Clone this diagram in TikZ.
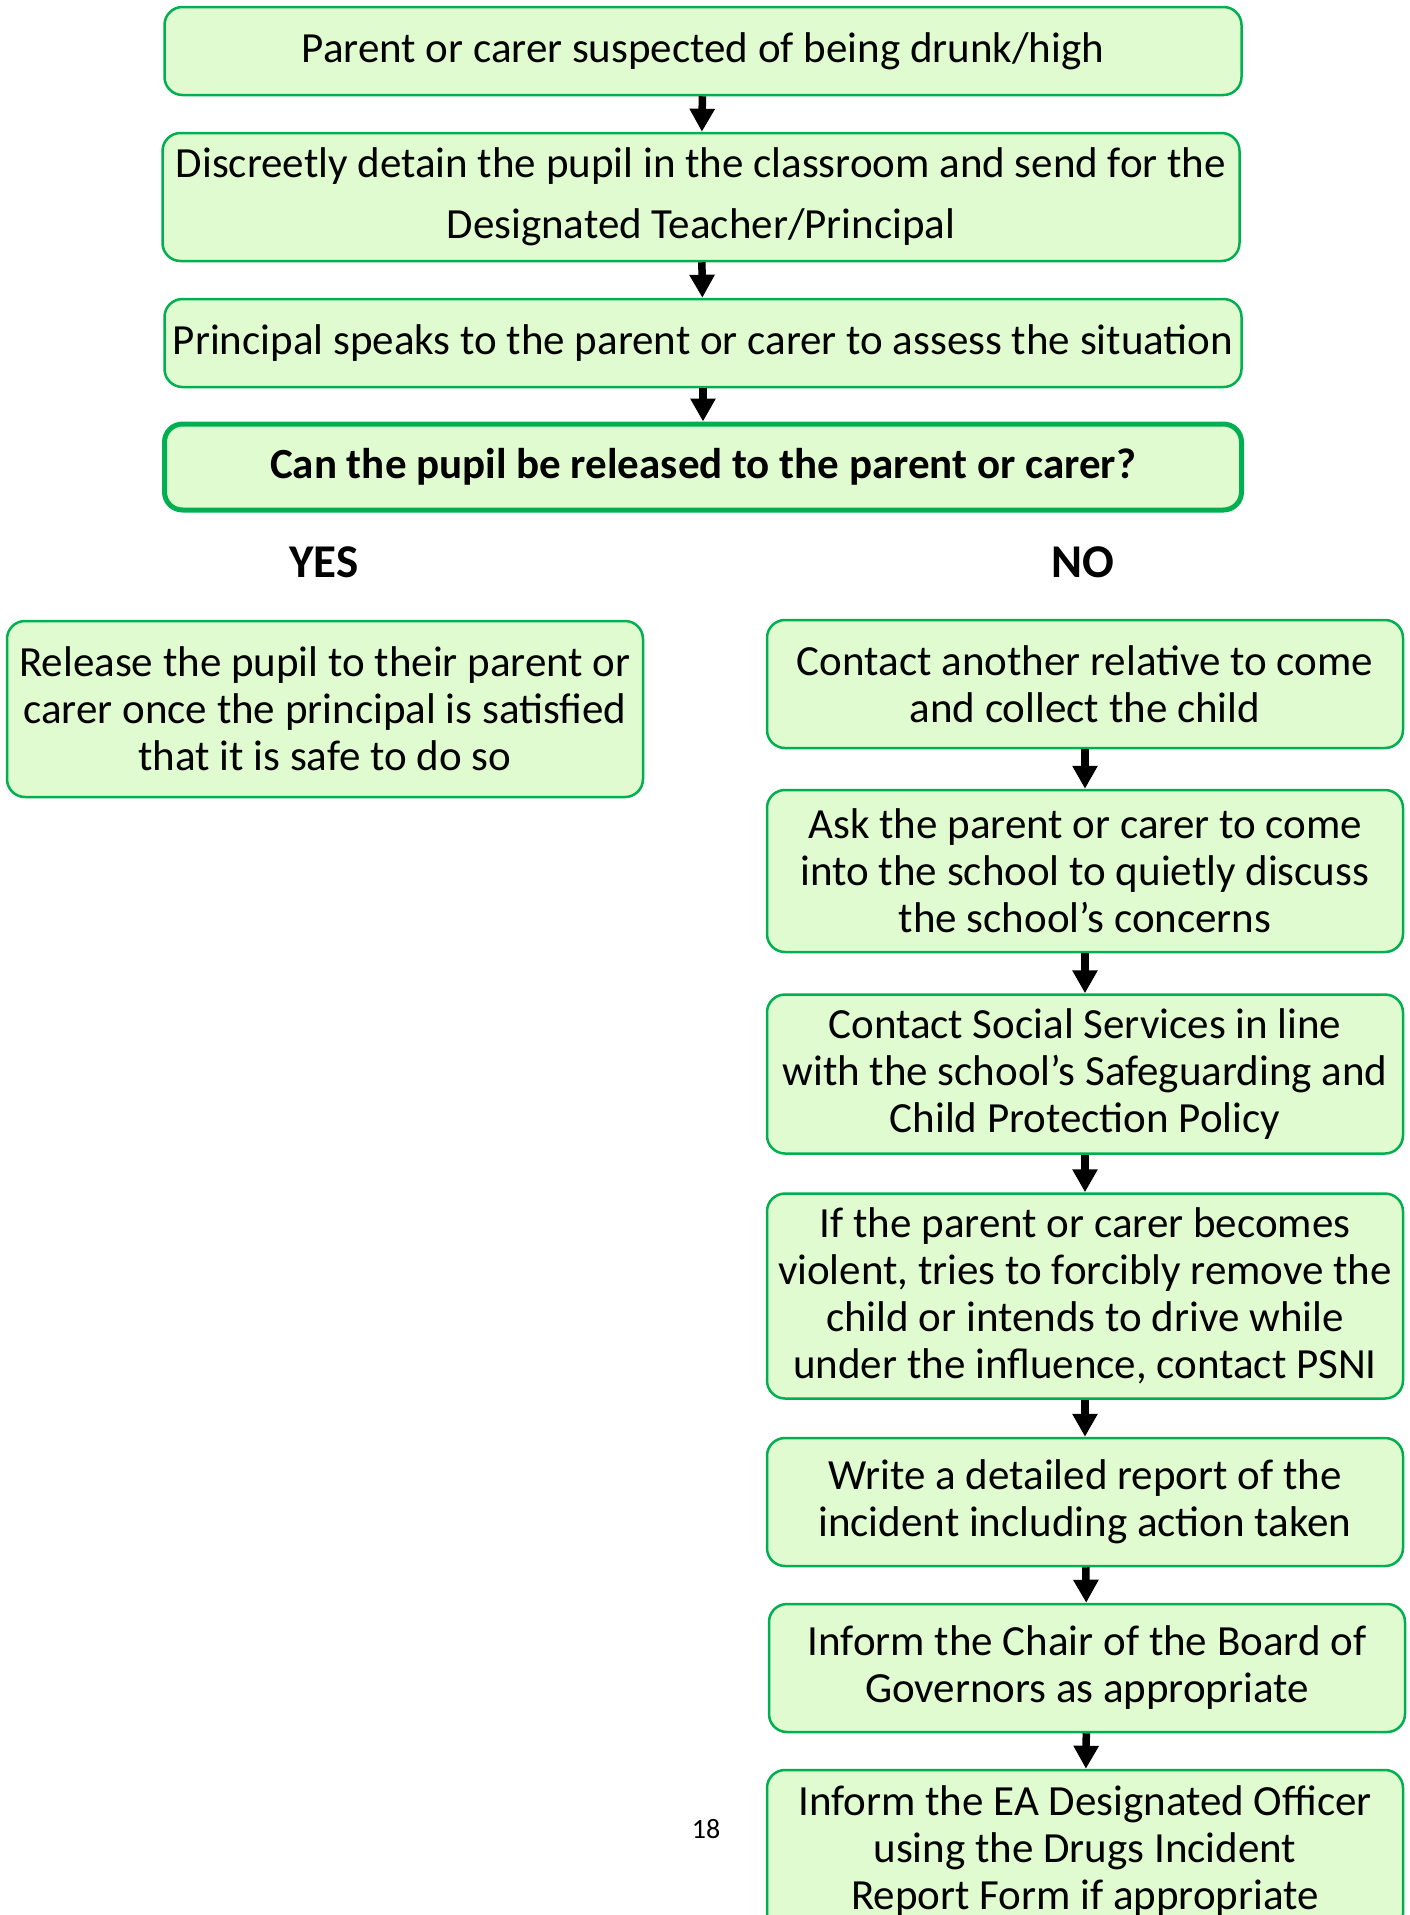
\documentclass[tikz,border=0pt]{standalone}
\usepackage{fontspec}
\setmainfont{Carlito}
\usepackage{tikz}
\usetikzlibrary{arrows.meta}
\definecolor{boxfill}{HTML}{DFFBCF}
\definecolor{boxline}{HTML}{00B050}
\tikzset{>=latex}
\tikzset{flowbox/.style = {shape=rectangle,draw=boxline,fill=boxfill,line width=2.5pt,rounded corners=18pt,align=center,inner sep=0pt,font=\fontsize{43}{47}\selectfont}}
\tikzset{flowarrow/.style = {line width=7.5pt,-{Triangle[width=24pt,length=23pt]}}}
\tikzset{answer/.style = {font=\fontsize{47}{50}\selectfont\bfseries}}

\begin{document}
\begin{tikzpicture}[x=1pt,y=-1pt]
                \useasboundingbox (0,0) rectangle (1410,1915);
                \node[flowbox, minimum width=1077pt, minimum height=88pt] (S) at (703,51) {Parent or carer suspected of being drunk/high};
                \node[flowbox, minimum width=1077pt, minimum height=128pt, font=\fontsize{43}{61}\selectfont] (D) at (701,197) {Discreetly detain the pupil in the classroom and send for the\\Designated Teacher/Principal};
                \node[flowbox, minimum width=1077pt, minimum height=88pt] (P) at (703,343) {Principal speaks to the parent or carer to assess the situation};
                \node[flowbox, line width=5pt, minimum width=1077pt, minimum height=86pt, font=\fontsize{43}{47}\selectfont\bfseries] (Q) at (703,467) {Can the pupil be released to the parent or carer?};

                \node[answer] (Y) at (324,562) {YES};
                \node[answer] (N) at (1083,562) {NO};

                \node[flowbox, minimum width=636pt, minimum height=176pt] (R) at (325,709) {Release the pupil to their parent or\\carer once the principal is satisfied\\that it is safe to do so};

                \node[flowbox, minimum width=636pt, minimum height=128pt] (N1) at (1085,684) {Contact another relative to come\\and collect the child};
                \node[flowbox, minimum width=636pt, minimum height=162pt] (N2) at (1085,871) {Ask the parent or carer to come\\into the school to quietly discuss\\the school’s concerns};
                \node[flowbox, minimum width=636pt, minimum height=159pt] (N3) at (1085,1074) {Contact Social Services in line\\with the school’s Safeguarding and\\Child Protection Policy};
                \node[flowbox, minimum width=636pt, minimum height=205pt] (N4) at (1085,1296) {If the parent or carer becomes\\violent, tries to forcibly remove the\\child or intends to drive while\\under the influence, contact PSNI};
                \node[flowbox, minimum width=636pt, minimum height=128pt] (N5) at (1085,1502) {Write a detailed report of the\\incident including action taken};
                \node[flowbox, minimum width=636pt, minimum height=128pt] (N6) at (1087,1668) {Inform the Chair of the Board of\\Governors as appropriate};
                \node[flowbox, minimum width=636pt, minimum height=162pt] (N7) at (1085,1851) {Inform the EA Designated Officer\\using the Drugs Incident\\Report Form if appropriate};

                \node[font=\fontsize{28}{32}\selectfont] (pg) at (706,1829) {18};

                \draw[flowarrow] (S) -- (D);
                \draw[flowarrow] (D) -- (P);
                \draw[flowarrow] (P) -- (Q);

                \draw[flowarrow] (N1) -- (N2);
                \draw[flowarrow] (N2) -- (N3);
                \draw[flowarrow] (N3) -- (N4);
                \draw[flowarrow] (N4) -- (N5);
                \draw[flowarrow] (N5) -- (N6);
                \draw[flowarrow] (N6) -- (N7);
            \end{tikzpicture}
\end{document}
